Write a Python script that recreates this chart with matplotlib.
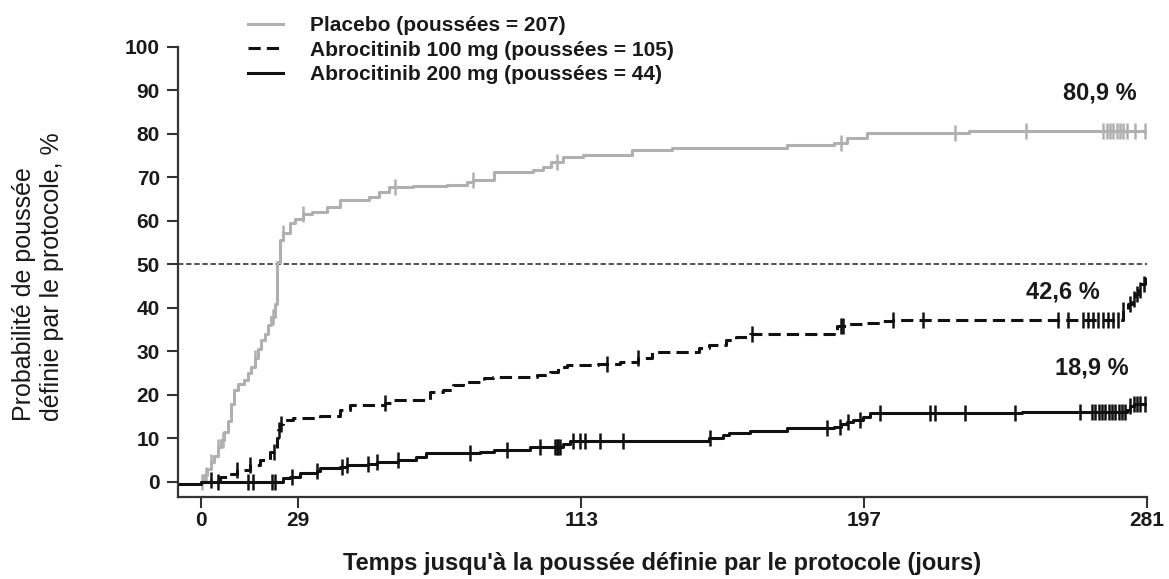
import numpy as np
import matplotlib
matplotlib.use("Agg")
import matplotlib.pyplot as plt

plt.rcParams['font.family'] = ['Liberation Sans', 'DejaVu Sans']

# ---------------- data ----------------
labels = ["Placebo (poussées = 207)",
          "Abrocitinib 100 mg (poussées = 105)",
          "Abrocitinib 200 mg (poussées = 44)"]

placebo_days = [0, 1, 2, 3, 4, 5, 6, 7, 8, 9, 10, 11, 13, 14, 15, 16, 17, 18, 19, 20, 21, 22,
                22.7, 23.5, 24.4, 26.5, 28, 30.4, 33, 37.5, 41.4, 50, 53, 56, 63, 73, 79, 81, 87,
                98.7, 101.7, 104, 107.6, 113.6, 128, 140, 174, 188, 191.8, 197.8, 228]
placebo_vals = [0, 1.5, 3, 4.5, 6, 8, 9.5, 11.5, 14, 18, 21, 22.5, 23.5, 25, 26.5, 28.5, 30.5, 32.5,
                34, 36, 38, 41, 50.5, 55.5, 57.3, 59.6, 60.5, 61.5, 62, 63.3, 64.9, 65.4, 66.7, 67.7,
                68, 68.3, 69, 69.5, 71.3, 71.8, 72.5, 73.6, 74.8, 75.2, 76.3, 76.8, 77.5, 78, 79.1,
                80.2, 80.6]
placebo_cens = [0.5, 1.5, 3, 5, 6.5, 16, 21.5, 24.4, 30.4, 57.7, 81, 105.8, 190, 224, 245,
                268, 269, 270, 271, 272, 273, 274, 275, 277.4, 280.4]

a100_days = [0, 3, 5.7, 8, 10.8, 14.6, 17.6, 20.6, 22, 22.6, 23, 23.6, 24.4, 27.5, 35.4, 41.4,
             44.3, 54.7, 57.2, 68, 72, 75, 78, 84, 86.8, 100, 103.7, 106, 108.7, 118, 124.5, 130,
             134, 148, 151, 156, 159, 163, 188, 189, 192, 197.7, 201.6, 205.6, 274, 275.5, 276.5,
             277.5, 278.5, 279.3, 280.4]
a100_vals = [0, 0.5, 1, 1.8, 2.7, 3.8, 5, 6.8, 7.7, 10, 11.9, 13.4, 14.2, 14.6, 15.2, 16.5, 17.6,
             18.1, 18.8, 20.6, 21.1, 22.2, 22.9, 23.8, 24.2, 24.6, 25.3, 26.4, 26.8, 27.2, 27.6,
             28.4, 29.8, 30.7, 31.4, 32.6, 33.3, 34, 34.8, 35.8, 36.2, 36.6, 36.9, 37.1, 39.4, 41,
             42.1, 43.2, 44, 45.6, 47]
a100_cens = [3, 10.8, 14.6, 21.8, 23.3, 23.8, 54.7, 120.6, 130, 163.7, 190, 190.8, 205.6, 214.5,
             254.6, 257.6, 262, 263.5, 265, 266.5, 268, 269.5, 271, 272.5, 274, 276, 277, 278,
             279, 280]

a200_days = [-6, 0, 24.4, 26.5, 29.5, 34.5, 35.4, 41.4, 43.4, 49.7, 52.3, 58.6, 64, 67, 83, 87,
             97.7, 107.6, 109.7, 151, 155, 157, 163, 174, 188, 190, 192, 193.8, 196.7, 198.8, 244,
             275, 276, 277]
a200_vals = [-0.5, 0, 0.8, 1.1, 2, 2.4, 3.1, 3.4, 3.8, 4.0, 4.5, 5, 5.7, 6.6, 6.8, 7.3, 8, 8.8,
             9.3, 10.0, 10.7, 11.2, 11.6, 12.3, 12.6, 13.4, 13.7, 14.1, 14.9, 15.8, 16.0, 16.6,
             17.4, 17.8]
a200_cens = [5.1, 14.0, 15.5, 21.2, 22.1, 27.1, 34.5, 42, 43.4, 49.7, 52.3, 58.6, 80, 91, 100.8,
             105.2, 105.8, 106.1, 106.7, 110.6, 112.7, 114.1, 118.6, 125.4, 151.2, 185.9, 189.8,
             192.2, 195.7, 201.6, 216.6, 218, 227, 241.8, 261, 264.6, 265.6, 266.6, 267.6, 268.6,
             269.6, 270.6, 271.6, 272.6, 273.6, 274.6, 276, 277, 278, 279, 280.5]

final_labels = ["80,9 %", "42,6 %", "18,9 %"]
final_label_pos = [(267, 89.4), (256, 43.6), (264.6, 26.1)]

x_ticks = [0, 29, 113, 197, 281]
y_ticks = list(range(0, 101, 10))
x_end = 281

# ---------------- figure ----------------
W, H = 1169, 579
fig = plt.figure(figsize=(W / 100, H / 100), dpi=100)
ax = fig.add_axes([178 / W, 82 / H, 969 / W, 450 / H])

txt_color = '#1a1a1a'
series = [
    (placebo_days, placebo_vals, placebo_cens, dict(color='#b0b0b0', lw=2.2, ls='-')),
    (a100_days, a100_vals, a100_cens, dict(color='#111111', lw=2.2, ls=(0, (4, 2)))),
    (a200_days, a200_vals, a200_cens, dict(color='#111111', lw=2.2, ls='-')),
]

handles = []
for (d, v, c, st), lab in zip(series, labels):
    d = np.append(np.asarray(d, float), x_end)
    v = np.append(np.asarray(v, float), v[-1])
    h, = ax.step(d, v, where='post', color=st['color'], lw=st['lw'], linestyle=st['ls'],
                 label=lab, zorder=3)
    c = np.asarray(c, float)
    idx = np.searchsorted(d, c, side='right') - 1
    ax.plot(c, v[idx], linestyle='none', marker='|', ms=12, mew=1.8,
            color=st['color'], zorder=3)
    handles.append(h)

ax.axhline(50, color='#444444', lw=1.3, ls=(0, (3, 1.5)), zorder=2)

for t, (xx, yy) in zip(final_labels, final_label_pos):
    ax.text(xx, yy, t, ha='center', va='center', fontsize=17, fontweight='bold', color=txt_color)

ax.set_xlim(-6.74, x_end)
ax.set_ylim(-3.5, 100)
ax.set_xticks(x_ticks)
ax.set_yticks(y_ticks)
ax.tick_params(axis='both', direction='out', length=8, width=1.5, colors='#333333',
               labelsize=15, labelcolor=txt_color)
ax.tick_params(axis='x', pad=2)
ax.tick_params(axis='y', pad=5)
for lab in ax.get_xticklabels() + ax.get_yticklabels():
    lab.set_fontweight('bold')
for s in ['top', 'right']:
    ax.spines[s].set_visible(False)
for s in ['left', 'bottom']:
    ax.spines[s].set_linewidth(1.6)
    ax.spines[s].set_color('#333333')

ax.set_xlabel("Temps jusqu'à la poussée définie par le protocole (jours)", fontsize=17,
              fontweight='bold', color=txt_color, labelpad=16)
fig.text(38 / W, 1 - 277 / H, "Probabilité de poussée\ndéfinie par le protocole, %",
         rotation=90, ha='center', va='center', multialignment='left', fontsize=18,
         color=txt_color)

leg = ax.legend(handles=handles, loc='upper left', bbox_to_anchor=(248 / W, 1 - 16 / H),
                bbox_transform=fig.transFigure, frameon=False, fontsize=15,
                borderaxespad=0, borderpad=0, handlelength=1.68, handletextpad=1.3,
                labelspacing=0.27)
for t in leg.get_texts():
    t.set_fontweight('bold')
    t.set_color(txt_color)

fig.savefig('out.png', dpi=100)
